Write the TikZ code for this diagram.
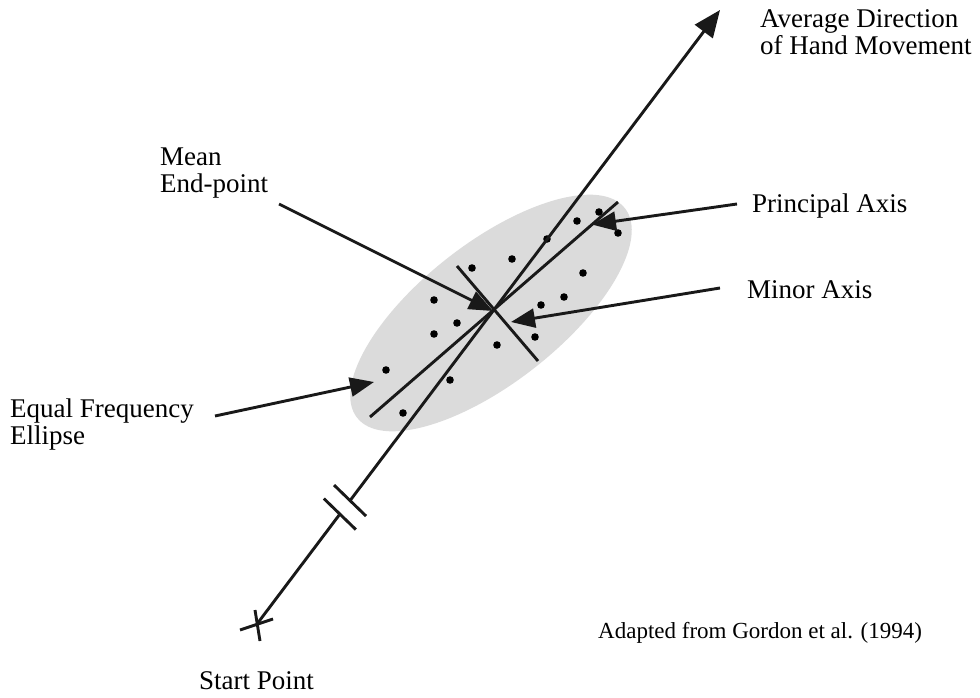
\documentclass[tikz,border=0pt]{standalone}
\usepackage{fontspec}
\setmainfont{Liberation Serif}
\usetikzlibrary{arrows.meta,calc}
\begin{document}
\begin{tikzpicture}[x=1pt,y=-1pt,
  ln/.style={line width=2.9pt, black!90},
  ptr/.style={ln, -{Triangle[length=24pt,width=19pt]}},
  lbl/.style={font=\fontsize{27}{27}\selectfont, anchor=base west, inner sep=0pt, align=left},
  small/.style={font=\fontsize{23}{24}\selectfont, anchor=base west, inner sep=0pt}]
\useasboundingbox (0,0) rectangle (980,698);
% key points
\coordinate (S) at (257,624);
\coordinate (T) at (720,10);
\coordinate (C) at (493,311);
\coordinate (E) at (491,313);
\coordinate (P1) at (370,417);
\coordinate (P2) at (618,202);
\coordinate (M1) at (457,266);
\coordinate (M2) at (538,361);
% ellipse
\fill[gray!28, rotate around={38:(E)}] (E) ellipse [x radius=170, y radius=70];
% dots
\foreach \p in {(599,212),(577,221),(618,233),(547,239),(512,259),(472,268),(583,273),
  (434,300),(564,297),(541,305),(457,323),(434,334),(535,337),(497,345),(386,370),(450,380),(403,413)}
  \fill \p circle[radius=3.8];
% main direction line with break
\coordinate (B2) at ($(S)!0.179!(T)$);
\coordinate (B1) at ($(S)!0.201!(T)$);
\draw[ln] (S) -- (B2);
\draw[ln, -{Triangle[length=27pt,width=22pt]}] (B1) -- (T);
\draw[ln] ($(B1)+(-16,-15.5)$) -- ($(B1)+(16,15.5)$);
\draw[ln] ($(B2)+(-16,-15.5)$) -- ($(B2)+(16,15.5)$);
% start cross
\draw[ln] (240,630) -- (273,619);
\draw[ln] (255,610) -- (260,641);
% axes
\draw[ln] (P1) -- (P2);
\draw[ln] (M1) -- (M2);
% labels (base = last line)
\node[lbl] (avg) at (760,55) {Average Direction\\of Hand Movement};
\node[lbl] (mean) at (160,193) {Mean\\End-point};
\node[lbl] (pa) at (752,212) {Principal Axis};
\node[lbl] (ma) at (747,298) {Minor Axis};
\node[lbl] (efe) at (10,444) {Equal Frequency\\Ellipse};
\node[lbl] (sp) at (199,689) {Start Point};
\node[small] (src) at (598,638) {Adapted from Gordon et al. (1994)};
% pointers
\coordinate (mA) at (279,204);
\coordinate (pA) at (737,204);
\coordinate (pT) at ($(P1)!0.895!(P2)$);
\coordinate (nA) at (720,288);
\coordinate (nT) at (511,322);
\coordinate (eA) at (215,416);
\coordinate (eT) at (374,382);
\draw[ptr] (mA) -- (C);
\draw[ptr] (pA) -- (pT);
\draw[ptr] (nA) -- (nT);
\draw[ptr] (eA) -- (eT);
\end{tikzpicture}
\end{document}
